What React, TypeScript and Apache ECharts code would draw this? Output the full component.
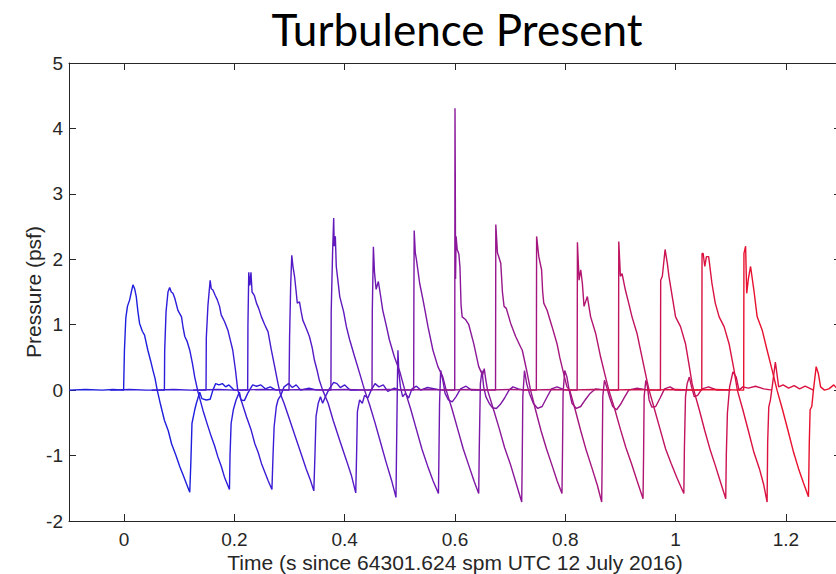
import React, { useEffect, useRef } from "react";
import * as echarts from "echarts";

// Pressure traces [time (s), pressure (psf)]
const trace01 = [[-0.1,0],[-0.07,0.01],[-0.04,0],[-0.02,0.01],[-0.001,0],[0.0005,0.6],[0.003,1.1],[0.006,1.28],[0.010,1.38],[0.013,1.5],[0.016,1.61],[0.019,1.55],[0.022,1.43],[0.025,1.2],[0.028,1.02],[0.033,0.9],[0.037,0.84],[0.043,0.61],[0.048,0.45],[0.052,0.31],[0.056,0.18],[0.060,0],[0.066,-0.22],[0.073,-0.46],[0.08,-0.62],[0.086,-0.82],[0.094,-1.0],[0.101,-1.17],[0.108,-1.32],[0.113,-1.43],[0.119,-1.56],[0.121,-1.1],[0.123,-0.51],[0.128,-0.3],[0.131,-0.2],[0.137,-0.03],[0.141,-0.13],[0.149,-0.15],[0.156,-0.14],[0.161,0],[0.166,0.1],[0.172,0.08],[0.178,0.1],[0.184,0.05],[0.19,0.08],[0.197,0.02],[0.2,0]];
const trace02 = [[-0.025,0],[0.01,0.01],[0.04,0],[0.073,0],[0.0735,0.6],[0.076,1.2],[0.0795,1.5],[0.0825,1.57],[0.0855,1.5],[0.0885,1.48],[0.092,1.4],[0.0975,1.22],[0.104,1.12],[0.107,0.95],[0.110,0.82],[0.114,0.75],[0.119,0.61],[0.124,0.4],[0.128,0.2],[0.134,-0.03],[0.143,-0.31],[0.150,-0.5],[0.158,-0.71],[0.164,-0.85],[0.170,-1.02],[0.176,-1.16],[0.182,-1.33],[0.191,-1.52],[0.192,-1.0],[0.194,-0.51],[0.198,-0.3],[0.203,-0.15],[0.209,-0.03],[0.212,-0.15],[0.218,-0.16],[0.224,-0.05],[0.233,0.08],[0.24,0.06],[0.248,0.08],[0.256,0.02],[0.265,0.05],[0.275,0]];
const trace03 = [[0.05,0],[0.09,0.01],[0.12,0],[0.1485,0],[0.149,0.8],[0.152,1.3],[0.156,1.68],[0.158,1.55],[0.161,1.53],[0.165,1.45],[0.169,1.38],[0.173,1.28],[0.176,1.15],[0.182,1.05],[0.188,0.92],[0.193,0.75],[0.197,0.61],[0.202,0.3],[0.206,0],[0.214,-0.2],[0.222,-0.41],[0.23,-0.6],[0.237,-0.82],[0.243,-0.95],[0.249,-1.12],[0.255,-1.25],[0.261,-1.38],[0.268,-1.52],[0.270,-1.0],[0.272,-0.56],[0.276,-0.25],[0.279,-0.15],[0.284,-0.08],[0.29,0.05],[0.298,0.1],[0.305,0.04],[0.312,0.08],[0.32,0],[0.335,0.03],[0.35,0]];
const trace04 = [[0.125,0],[0.17,0.01],[0.2,0],[0.224,0],[0.2245,1.0],[0.226,1.8],[0.228,1.6],[0.230,1.8],[0.232,1.5],[0.236,1.45],[0.24,1.33],[0.244,1.25],[0.249,1.12],[0.255,1.0],[0.261,0.89],[0.267,0.61],[0.273,0.36],[0.279,0.1],[0.283,-0.05],[0.29,-0.2],[0.3,-0.45],[0.31,-0.7],[0.32,-0.95],[0.33,-1.2],[0.338,-1.38],[0.344,-1.54],[0.346,-1.0],[0.348,-0.4],[0.352,-0.2],[0.356,-0.1],[0.36,-0.2],[0.366,-0.08],[0.372,0.02],[0.38,0.12],[0.386,0.1],[0.392,0.04],[0.4,0.08],[0.41,0.0],[0.425,0]];
const trace05 = [[0.2,0],[0.25,0.01],[0.299,0],[0.3,0.8],[0.302,1.6],[0.304,2.06],[0.306,1.9],[0.309,1.74],[0.312,1.5],[0.314,1.33],[0.318,1.35],[0.321,1.2],[0.324,1.07],[0.33,0.95],[0.336,0.82],[0.341,0.65],[0.345,0.46],[0.350,0.3],[0.354,0.15],[0.36,0],[0.37,-0.2],[0.379,-0.46],[0.391,-0.77],[0.403,-1.07],[0.412,-1.3],[0.42,-1.57],[0.4215,-1.0],[0.423,-0.33],[0.427,-0.15],[0.432,-0.2],[0.436,-0.08],[0.442,-0.12],[0.448,0.0],[0.455,0.1],[0.462,0.05],[0.47,0.08],[0.478,-0.02],[0.49,0.03],[0.5,0]];
const trace06 = [[0.275,0],[0.33,0.01],[0.375,0],[0.3755,1.2],[0.378,2.1],[0.38,2.63],[0.381,2.2],[0.383,2.35],[0.3847,1.89],[0.388,1.65],[0.391,1.43],[0.394,1.33],[0.398,1.2],[0.403,0.97],[0.409,0.77],[0.418,0.51],[0.427,0.26],[0.436,0],[0.445,-0.22],[0.455,-0.5],[0.465,-0.8],[0.475,-1.1],[0.485,-1.38],[0.493,-1.64],[0.494,-0.9],[0.4955,0.1],[0.4965,0.61],[0.498,0.3],[0.501,0.05],[0.505,-0.1],[0.51,-0.05],[0.516,-0.12],[0.522,0.02],[0.53,0.06],[0.538,0.0],[0.55,0.04],[0.575,0]];
const trace07 = [[0.35,0],[0.4,0.01],[0.4495,0],[0.45,1.2],[0.452,2.19],[0.454,1.8],[0.457,1.54],[0.461,1.66],[0.464,1.5],[0.469,1.22],[0.475,1.0],[0.481,0.77],[0.49,0.51],[0.5,0.28],[0.509,0],[0.52,-0.3],[0.53,-0.6],[0.54,-0.9],[0.55,-1.15],[0.56,-1.38],[0.57,-1.58],[0.571,-0.9],[0.572,-0.2],[0.574,0.3],[0.578,0.15],[0.582,-0.05],[0.588,-0.15],[0.595,-0.18],[0.602,-0.1],[0.61,0.02],[0.62,0.06],[0.63,0.0],[0.65,0]];
const trace08 = [[0.425,0],[0.48,0.01],[0.525,0],[0.5255,1.5],[0.526,2.44],[0.528,2.1],[0.53,2.0],[0.536,1.63],[0.542,1.38],[0.546,1.2],[0.551,0.97],[0.56,0.61],[0.569,0.36],[0.578,0.2],[0.584,0],[0.595,-0.3],[0.605,-0.6],[0.615,-0.9],[0.625,-1.15],[0.635,-1.4],[0.643,-1.58],[0.644,-0.9],[0.646,0.1],[0.649,0.3],[0.652,0.05],[0.656,-0.1],[0.662,-0.2],[0.668,-0.27],[0.675,-0.28],[0.682,-0.22],[0.69,-0.12],[0.698,0.0],[0.705,0.05],[0.715,0.02],[0.725,0]];
const trace09 = [[0.5,0],[0.55,0.01],[0.5995,0],[0.6,4.31],[0.6005,3.32],[0.601,1.7],[0.602,2.35],[0.604,2.15],[0.607,2.08],[0.609,1.88],[0.611,1.3],[0.613,1.12],[0.619,1.08],[0.625,1.0],[0.634,0.71],[0.643,0.36],[0.65,0.23],[0.653,0.33],[0.656,0.15],[0.659,0],[0.67,-0.3],[0.68,-0.58],[0.69,-0.88],[0.7,-1.12],[0.71,-1.4],[0.721,-1.71],[0.722,-1.0],[0.723,-0.1],[0.726,0.3],[0.73,0.1],[0.735,-0.05],[0.742,-0.2],[0.75,-0.28],[0.758,-0.25],[0.766,-0.12],[0.775,0.02],[0.785,0.05],[0.8,0]];
const trace10 = [[0.575,0],[0.63,0.01],[0.6735,0],[0.674,2.53],[0.677,2.1],[0.68,2.02],[0.683,1.94],[0.686,1.5],[0.689,1.28],[0.693,1.25],[0.701,1.02],[0.71,0.82],[0.719,0.66],[0.722,0.61],[0.73,0.3],[0.737,0],[0.746,-0.3],[0.756,-0.62],[0.766,-0.9],[0.776,-1.15],[0.785,-1.38],[0.794,-1.58],[0.795,-0.9],[0.796,-0.05],[0.799,0.3],[0.803,0.2],[0.807,0.0],[0.812,-0.2],[0.82,-0.28],[0.828,-0.25],[0.836,-0.15],[0.845,-0.05],[0.855,0.02],[0.875,0]];
const trace11 = [[0.65,0],[0.7,0.01],[0.7475,0],[0.748,2.35],[0.752,2.04],[0.757,1.84],[0.759,1.5],[0.761,1.33],[0.767,1.22],[0.776,0.97],[0.785,0.71],[0.79,0.5],[0.794,0.36],[0.803,0.05],[0.808,0],[0.818,-0.3],[0.828,-0.62],[0.838,-0.92],[0.848,-1.18],[0.858,-1.45],[0.866,-1.71],[0.867,-1.0],[0.868,-0.1],[0.871,0.15],[0.875,0.05],[0.88,-0.1],[0.886,-0.25],[0.893,-0.3],[0.9,-0.22],[0.908,-0.1],[0.915,0.0],[0.93,0.03],[0.95,0]];
const trace12 = [[0.725,0],[0.78,0.01],[0.8215,0],[0.822,2.26],[0.825,1.68],[0.828,1.84],[0.831,1.63],[0.834,1.28],[0.84,1.43],[0.846,1.12],[0.855,0.87],[0.864,0.51],[0.873,0.2],[0.879,0],[0.89,-0.3],[0.9,-0.6],[0.91,-0.88],[0.92,-1.12],[0.93,-1.38],[0.941,-1.66],[0.942,-1.0],[0.943,-0.1],[0.946,0.15],[0.949,0.05],[0.952,-0.15],[0.957,-0.26],[0.964,-0.25],[0.972,-0.12],[0.98,0.02],[0.99,0.05],[1.0,0.0],[1.025,0]];
const trace13 = [[0.8,0],[0.85,0.01],[0.8965,0],[0.897,2.27],[0.9,1.74],[0.903,1.78],[0.909,1.53],[0.915,1.33],[0.921,1.12],[0.93,0.87],[0.939,0.51],[0.948,0.15],[0.952,0],[0.962,-0.3],[0.972,-0.6],[0.982,-0.9],[0.992,-1.12],[1.003,-1.35],[1.015,-1.58],[1.016,-0.9],[1.018,-0.1],[1.021,0.1],[1.025,0.2],[1.029,0.05],[1.034,-0.1],[1.04,-0.08],[1.048,0.02],[1.06,0.05],[1.075,0.0],[1.1,0]];
const trace14 = [[0.875,0],[0.93,0.01],[0.9725,0],[0.973,1.68],[0.976,1.74],[0.981,2.15],[0.985,1.94],[0.988,1.74],[0.994,1.43],[1.0,1.12],[1.009,0.97],[1.018,0.71],[1.024,0.41],[1.03,0.1],[1.033,0],[1.043,-0.3],[1.053,-0.62],[1.063,-0.92],[1.072,-1.15],[1.082,-1.42],[1.091,-1.66],[1.092,-1.0],[1.094,-0.35],[1.098,0.05],[1.104,0.28],[1.11,0.2],[1.115,0.0],[1.122,0.05],[1.132,0.03],[1.145,0.06],[1.16,0.02],[1.175,0]];
const trace15 = [[0.95,0],[1.0,0.01],[1.0475,0],[1.048,2.09],[1.05,2.09],[1.053,1.89],[1.056,2.04],[1.06,2.04],[1.066,1.63],[1.072,1.33],[1.079,1.12],[1.088,0.97],[1.097,0.71],[1.106,0.31],[1.112,0],[1.122,-0.3],[1.132,-0.62],[1.142,-0.95],[1.152,-1.2],[1.16,-1.45],[1.166,-1.71],[1.167,-0.8],[1.169,-0.26],[1.172,-0.15],[1.176,0.1],[1.181,0.43],[1.187,0.05],[1.195,0.08],[1.205,0.03],[1.215,0.07],[1.225,0.02],[1.235,0.06],[1.25,0]];
const trace16 = [[1.025,0],[1.07,0.01],[1.1235,0],[1.124,2.09],[1.127,2.2],[1.129,1.48],[1.132,1.7],[1.136,1.89],[1.142,1.53],[1.148,1.12],[1.157,0.92],[1.166,0.61],[1.175,0.31],[1.184,0],[1.194,-0.3],[1.204,-0.62],[1.214,-0.95],[1.223,-1.2],[1.232,-1.42],[1.241,-1.63],[1.2425,-0.8],[1.244,-0.3],[1.247,-0.25],[1.25,0.0],[1.255,0.36],[1.259,0.25],[1.263,0.05],[1.27,0],[1.278,0.02],[1.287,0.08],[1.295,0.0],[1.3,0.05]];

const traces = [trace01, trace02, trace03, trace04, trace05, trace06, trace07, trace08,
  trace09, trace10, trace11, trace12, trace13, trace14, trace15, trace16];

const titleText = "Turbulence Present";
const xName = "Time (s since 64301.624 spm UTC 12 July 2016)";
const yName = "Pressure (psf)";
const xRange = [-0.1, 1.3];
const yRange = [-2, 5];

const AXIS = "#262626";
const FONT = "'Liberation Sans', Arial, Helvetica, sans-serif";

function traceColor(i: number, n: number) {
  const f = i / (n - 1);
  const r = Math.round(30 + 202 * f);
  const g = Math.round(30 - 14 * f);
  const b = Math.round(222 - 176 * Math.pow(f, 1.5));
  return `rgb(${r},${g},${b})`;
}

export default function App() {
  const ref = useRef<HTMLDivElement>(null);
  useEffect(() => {
    if (!ref.current) return;
    const chart = echarts.init(ref.current, undefined, { renderer: "svg" });
    const axisLine = { show: true, onZero: false, lineStyle: { color: AXIS, width: 1 } };
    const tick = { show: true, inside: true, length: 7, lineStyle: { color: AXIS, width: 1 } };
    chart.setOption({
      animation: false,
      backgroundColor: "#ffffff",
      grid: { left: 69, top: 63, right: 5, bottom: 53, containLabel: false, outerBoundsMode: "none" },
      graphic: [
        {
          type: "text",
          x: 457,
          y: 29,
          style: {
            text: titleText,
            fontSize: 44,
            fontFamily: "Lato, 'Open Sans', sans-serif",
            fill: "#000000",
            textAlign: "center",
            textVerticalAlign: "middle",
          },
        },
      ],
      xAxis: [
        {
          type: "value",
          min: xRange[0],
          max: xRange[1],
          splitNumber: 7,
          axisLine,
          axisTick: tick,
          splitLine: { show: false },
          axisLabel: {
            showMinLabel: false,
            showMaxLabel: false,
            color: AXIS,
            fontSize: 19,
            fontFamily: FONT,
            margin: 9,
          },
          name: xName,
          nameLocation: "middle",
          nameGap: 31,
          nameMoveOverlap: false,
          nameTextStyle: { color: AXIS, fontSize: 21, fontFamily: FONT },
        },
        {
          type: "value",
          position: "top",
          min: xRange[0],
          max: xRange[1],
          splitNumber: 7,
          axisLine,
          axisTick: tick,
          splitLine: { show: false },
          axisLabel: { show: false },
        },
      ],
      yAxis: [
        {
          type: "value",
          min: yRange[0],
          max: yRange[1],
          interval: 1,
          axisLine,
          axisTick: tick,
          splitLine: { show: false },
          axisLabel: { color: AXIS, fontSize: 19, fontFamily: FONT, margin: 6 },
          name: yName,
          nameLocation: "middle",
          nameGap: 25,
          nameMoveOverlap: false,
          nameTextStyle: { color: AXIS, fontSize: 21, fontFamily: FONT },
        },
        {
          type: "value",
          position: "right",
          min: yRange[0],
          max: yRange[1],
          interval: 1,
          axisLine,
          axisTick: tick,
          splitLine: { show: false },
          axisLabel: { show: false },
        },
      ],
      series: traces.map((d, i) => ({
        type: "line",
        name: `trace ${i + 1}`,
        data: d,
        xAxisIndex: 0,
        yAxisIndex: 0,
        showSymbol: false,
        symbol: "none",
        silent: true,
        clip: true,
        lineStyle: { width: 1.4, color: traceColor(i, traces.length) },
        itemStyle: { color: traceColor(i, traces.length) },
        z: 2 + i,
      })),
    });
    return () => chart.dispose();
  }, []);

  return (
    <div style={{ position: "absolute", left: 0, top: 0, width: 836, height: 574, overflow: "hidden", background: "#fff" }}>
      <div ref={ref} style={{ width: 846, height: 574 }} />
    </div>
  );
}
